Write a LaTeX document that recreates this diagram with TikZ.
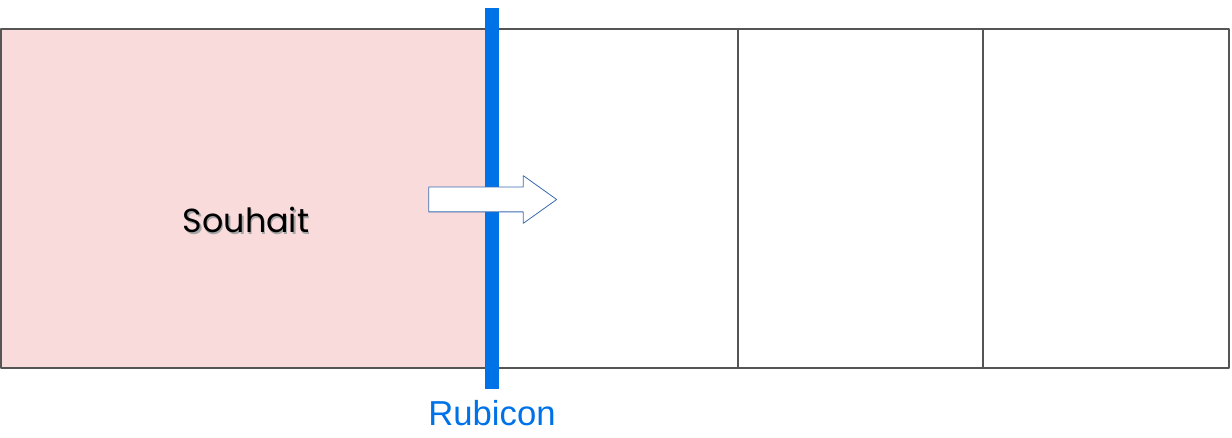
\documentclass[tikz,border=0pt]{standalone}
\usepackage{fontspec}
\setmainfont{Liberation Sans}
\newfontfamily\souhaitfont{Poppins}
\usetikzlibrary{shapes.arrows}
\definecolor{rubiconblue}{RGB}{0,114,232}
\definecolor{souhaitpink}{RGB}{249,219,220}
\definecolor{framegray}{RGB}{85,85,85}
\definecolor{arrowblue}{RGB}{58,106,176}
\tikzset{
  cadre/.style={draw=framegray, line width=1.1pt},
  fleche/.style={single arrow, draw=arrowblue, fill=white, line width=0.6pt,
    minimum height=96pt, inner xsep=0pt, inner ysep=9pt,
    single arrow head extend=8.6pt, single arrow tip angle=71},
}
\begin{document}
\begin{tikzpicture}[x=0.75pt,y=-0.75pt,line cap=round,line join=round]
\useasboundingbox (0,0) rectangle (1232,438);
% Zone du souhait
\fill[souhaitpink] (1,29) rectangle (492,368);
% Cadre et les trois cases
\draw[cadre] (1,29) rectangle (1229,368);
\draw[cadre] (738,29) -- (738,368);
\draw[cadre] (983,29) -- (983,368);
% Le Rubicon
\fill[rubiconblue] (485,8) rectangle (499,389);
\node[text=rubiconblue, font=\fontsize{26}{30}\selectfont] (rubicon) at (492,413) {Rubicon};
% Texte avec ombre
\node[text=black!35, font=\souhaitfont\fontsize{25}{29}\selectfont] (ombre) at (247.5,221.5) {Souhait};
\node[font=\souhaitfont\fontsize{25}{29}\selectfont] (souhait) at (246,220) {Souhait};
% Fleche
\node[fleche] (passage) at (484,199.5) {};
\end{tikzpicture}
\end{document}
